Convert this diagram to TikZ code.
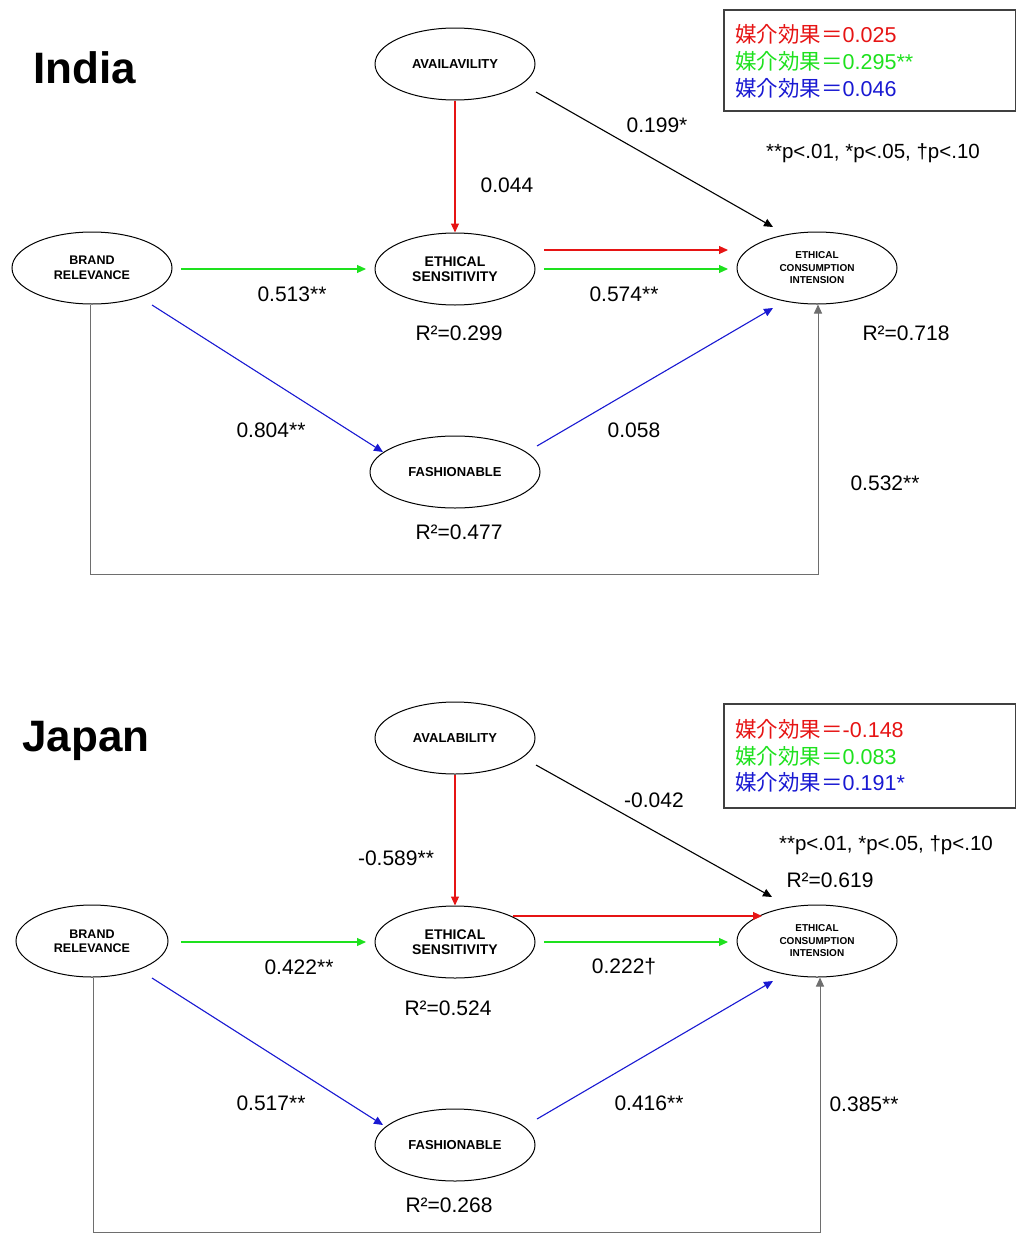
\documentclass[tikz,border=0pt]{standalone}
\usepackage{fontspec}
\setmainfont{Liberation Sans}
\newfontfamily\cjk{Noto Sans CJK JP}
\usetikzlibrary{shapes.geometric,arrows.meta,calc}
\definecolor{ared}{RGB}{230,20,20}
\definecolor{agreen}{RGB}{30,225,30}
\definecolor{ablue}{RGB}{25,25,210}
\definecolor{lgray}{RGB}{110,110,110}
\begin{document}
\begin{tikzpicture}[x=1pt,y=-1pt,
  var/.style={ellipse,draw,line width=1pt,minimum width=160pt,minimum height=72pt,inner sep=0pt,align=center,font=\fontsize{13}{15}\selectfont\bfseries},
  small/.style={font=\fontsize{10}{12.5}\selectfont\bfseries},
  lbl/.style={font=\fontsize{21}{25}\selectfont,inner sep=0pt},
  pval/.style={font=\fontsize{20.5}{24}\selectfont,inner sep=0pt},
  ttl/.style={font=\fontsize{44}{50}\selectfont\bfseries,inner sep=0pt},
  leg/.style={font=\fontsize{21.5}{25}\selectfont,inner sep=0pt,anchor=west},
  arr/.style={line width=1.1pt,-{Triangle[length=9pt,width=8pt]}},
  garr/.style={line width=1pt,lgray,-{Triangle[length=9pt,width=8pt]}},
  legbox/.style={draw=black!75,line width=1.3pt}]
\useasboundingbox (0,0) rectangle (1015,1234);

% ================= India =================
\node[ttl] (india) at (85,68) {India};
\node[var] (av) at (455,64) {AVAILAVILITY};
\node[var,font=\fontsize{14}{15.5}\selectfont\bfseries] (es) at (455,269) {ETHICAL\\SENSITIVITY};
\node[var,font=\fontsize{12.5}{14.5}\selectfont\bfseries] (br) at (92,268) {BRAND\\RELEVANCE};
\node[var,small] (eci) at (817,268) {ETHICAL\\CONSUMPTION\\INTENSION};
\node[var,minimum width=170pt] (fa) at (455,472) {FASHIONABLE};

\draw[arr,ared] (av) -- (es);
\draw[arr,black] ($(av.center)+(81,28)$) -- ($(eci.center)+(-44,-41)$);
\draw[arr,ared] ($(es.center)+(89,-19)$) -- ($(eci.center)+(-89,-18)$);
\draw[arr,agreen] ($(es.center)+(89,0)$) -- ($(eci.center)+(-89,1)$);
\draw[arr,agreen] ($(br.center)+(89,1)$) -- ($(es.center)+(-89,0)$);
\draw[arr,ablue] ($(br.center)+(60,37)$) -- ($(fa.center)+(-72,-20)$);
\draw[arr,ablue] ($(fa.center)+(82,-26)$) -- ($(eci.center)+(-44,40)$);
\coordinate (ibot) at (0,574);
\draw[garr] ($(br.south)+(-2,0)$) -- ($(br.south |- ibot)+(-2,0)$) -| ($(eci.south)+(1,0)$);

\node[lbl] (l1) at (657,125) {0.199*};
\node[lbl] (l2) at (507,185) {0.044};
\node[lbl] (l3) at (292,294) {0.513**};
\node[lbl] (l4) at (624,294) {0.574**};
\node[lbl] (l5) at (459,333) {R²=0.299};
\node[lbl] (l6) at (906,333) {R²=0.718};
\node[lbl] (l7) at (271,430) {0.804**};
\node[lbl] (l8) at (634,430) {0.058};
\node[lbl] (l9) at (885,483) {0.532**};
\node[lbl] (l10) at (459,532) {R²=0.477};
\node[pval] (pv1) at (873,153) {**p<.01, *p<.05, †p<.10};

\draw[legbox] (724,10) rectangle (1016,111);
\node[leg,ared] (m1) at (735,34) {{\cjk 媒介効果＝}0.025};
\node[leg,agreen] (m2) at (735,61) {{\cjk 媒介効果＝}0.295**};
\node[leg,ablue] (m3) at (735,88) {{\cjk 媒介効果＝}0.046};

% ================= Japan =================
\node[ttl] (japan) at (86,741) {Japan};
\node[var] (jav) at (455,738) {AVALABILITY};
\node[var,font=\fontsize{14}{15.5}\selectfont\bfseries] (jes) at (455,942) {ETHICAL\\SENSITIVITY};
\node[var,minimum width=152pt,font=\fontsize{12.5}{14.5}\selectfont\bfseries] (jbr) at (92,941) {BRAND\\RELEVANCE};
\node[var,small] (jeci) at (817,941) {ETHICAL\\CONSUMPTION\\INTENSION};
\node[var] (jfa) at (455,1145) {FASHIONABLE};

\draw[arr,ared] (jav) -- (jes);
\draw[arr,black] ($(jav.center)+(81,27)$) -- ($(jeci.center)+(-45,-44)$);
\draw[arr,ared] ($(jes.center)+(58,-26)$) -- ($(jeci.center)+(-55,-25)$);
\draw[arr,agreen] ($(jes.center)+(89,0)$) -- ($(jeci.center)+(-89,1)$);
\draw[arr,agreen] ($(jbr.center)+(89,1)$) -- ($(jes.center)+(-89,0)$);
\draw[arr,ablue] ($(jbr.center)+(60,37)$) -- ($(jfa.center)+(-72,-20)$);
\draw[arr,ablue] ($(jfa.center)+(82,-26)$) -- ($(jeci.center)+(-44,40)$);
\coordinate (jbot) at (0,1232);
\draw[garr] ($(jbr.south)+(1,0)$) -- ($(jbr.south |- jbot)+(1,0)$) -| ($(jeci.south)+(3,0)$);

\node[lbl] (k1) at (654,800) {-0.042};
\node[lbl] (k2) at (396,858) {-0.589**};
\node[lbl] (k3) at (299,967) {0.422**};
\node[lbl] (k4) at (624,967) {0.222†};
\node[lbl] (k5) at (448,1008) {R²=0.524};
\node[lbl] (k6) at (830,880) {R²=0.619};
\node[lbl] (k7) at (271,1103) {0.517**};
\node[lbl] (k8) at (649,1103) {0.416**};
\node[lbl] (k9) at (864,1104) {0.385**};
\node[lbl] (k10) at (449,1205) {R²=0.268};
\node[pval] (pv2) at (886,845) {**p<.01, *p<.05, †p<.10};

\draw[legbox] (724,704) rectangle (1016,808);
\node[leg,ared] (n1) at (735,729) {{\cjk 媒介効果＝}-0.148};
\node[leg,agreen] (n2) at (735,756) {{\cjk 媒介効果＝}0.083};
\node[leg,ablue] (n3) at (735,782) {{\cjk 媒介効果＝}0.191*};
\end{tikzpicture}
\end{document}
